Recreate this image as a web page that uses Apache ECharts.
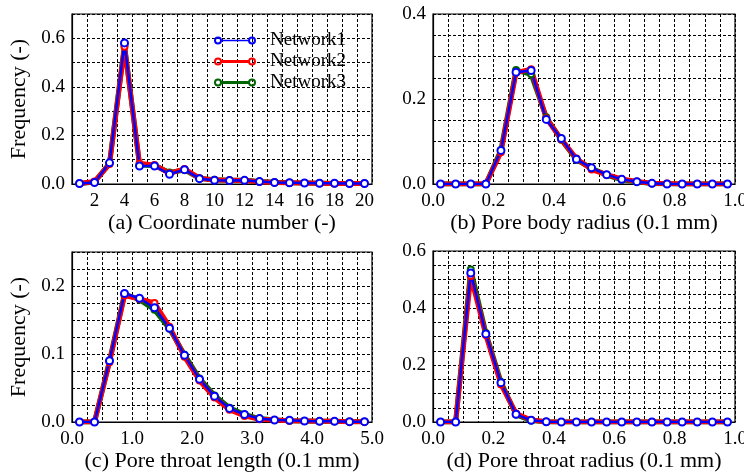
<!DOCTYPE html>
<html><head><meta charset="utf-8">
<script src="https://cdn.jsdelivr.net/npm/echarts@6/dist/echarts.min.js"></script>
<style>html,body{margin:0;padding:0;background:#fff}#c{width:744px;height:475px}</style>
</head><body><div id="c"></div>
<script>
// ---- data ----
const coordNumbers = [1,2,3,4,5,6,7,8,9,10,11,12,13,14,15,16,17,18,19,20];
const coordN1 = [0.002,0.006,0.087,0.581,0.074,0.074,0.040,0.059,0.022,0.015,0.014,0.015,0.010,0.006,0.005,0.004,0.003,0.003,0.002,0.002];
const coordN2 = [0.002,0.010,0.082,0.565,0.084,0.078,0.044,0.062,0.024,0.016,0.015,0.014,0.009,0.006,0.005,0.004,0.003,0.002,0.002,0.002];
const coordN3 = [0.002,0.008,0.085,0.572,0.078,0.076,0.047,0.058,0.023,0.018,0.015,0.015,0.010,0.007,0.005,0.004,0.003,0.002,0.002,0.002];

const radiusX = [0.025,0.075,0.125,0.175,0.225,0.275,0.325,0.375,0.425,0.475,0.525,0.575,0.625,0.675,0.725,0.775,0.825,0.875,0.925,0.975];
const bodyN1 = [0,0,0,0,0.079,0.263,0.267,0.152,0.107,0.058,0.038,0.022,0.011,0.0055,0.0015,0,0,0,0,0];
const bodyN2 = [0,0,0,0,0.075,0.262,0.270,0.155,0.105,0.060,0.034,0.022,0.012,0.006,0.002,0.001,0,0,0,0];
const bodyN3 = [0,0,0,0,0.080,0.268,0.258,0.157,0.104,0.057,0.037,0.021,0.010,0.005,0.001,0,0,0,0,0];

const lengthX = [0.125,0.375,0.625,0.875,1.125,1.375,1.625,1.875,2.125,2.375,2.625,2.875,3.125,3.375,3.625,3.875,4.125,4.375,4.625,4.875];
const lengthN1 = [0,0,0.090,0.189,0.182,0.168,0.138,0.098,0.063,0.038,0.020,0.011,0.005,0.003,0.0025,0.0015,0.001,0.001,0.0005,0.0005];
const lengthN2 = [0,0,0.088,0.186,0.181,0.175,0.140,0.096,0.061,0.036,0.018,0.009,0.004,0.003,0.002,0.0015,0.001,0.001,0.0005,0.0005];
const lengthN3 = [0,0,0.090,0.188,0.180,0.165,0.137,0.099,0.064,0.039,0.021,0.011,0.005,0.003,0.002,0.0015,0.001,0.001,0.0005,0.0005];

const throatN1 = [0,0,0.523,0.309,0.138,0.027,0.006,0.001,0,0,0,0,0,0,0,0,0,0,0,0];
const throatN2 = [0,0,0.512,0.305,0.132,0.030,0.007,0.001,0,0,0,0,0,0,0,0,0,0,0,0];
const throatN3 = [0,0,0.535,0.312,0.140,0.026,0.005,0.001,0,0,0,0,0,0,0,0,0,0,0,0];

const seriesNames = ['Network1','Network2','Network3'];
const panelTitles = ['(a) Coordinate number (-)','(b) Pore body radius (0.1 mm)','(c) Pore throat length (0.1 mm)','(d) Pore throat radius (0.1 mm)'];
const yName = 'Frequency (-)';

// ---- styling ----
const FONT = 'Liberation Serif';
const colors = {Network1:'#0000ff', Network2:'#ff0000', Network3:'#006400'};
const widths = {Network1:2.5, Network2:5, Network3:5};

function zip(xs, ys){ return xs.map((x,i)=>[x, ys[i]]); }
function fmt(step){
  return function(v){ const r=v/step; return Math.abs(r-Math.round(r))<1e-6 ? v.toFixed(1) : ''; };
}
const gridBox = [
  {left:72, top:14, width:300, height:170},
  {left:433, top:14, width:302, height:170},
  {left:72, top:252, width:300, height:170},
  {left:433, top:251, width:302, height:171}
];
const grids = gridBox.map(g => Object.assign({show:true, borderColor:'#000', borderWidth:1.2, outerBoundsMode:'none', containLabel:false}, g));

const splitStyle = {show:true, lineStyle:{color:'#000', width:1, type:[3,2]}};
const axLine = {show:true, lineStyle:{color:'#000', width:1.2}};
const lab = {color:'#000', fontFamily:FONT, fontSize:19};
const nameStyle = {color:'#000', fontFamily:FONT, fontSize:22};
const yNameStyle = {color:'#000', fontFamily:FONT, fontSize:22};

const xAxes = [
  {type:'category', gridIndex:0, data:coordNumbers, boundaryGap:true,
   axisLine:axLine, axisTick:{show:false},
   axisLabel:Object.assign({interval:(i,v)=>Number(v)%2===0, margin:8}, lab),
   splitLine:Object.assign({interval:0}, splitStyle),
   name:panelTitles[0], nameLocation:'middle', nameGap:24, nameTextStyle:nameStyle},
  {type:'value', gridIndex:1, min:0, max:1, interval:0.05,
   axisLine:axLine, axisTick:{show:false},
   axisLabel:Object.assign({formatter:fmt(0.2), margin:8}, lab), splitLine:splitStyle,
   name:panelTitles[1], nameLocation:'middle', nameGap:24, nameTextStyle:nameStyle},
  {type:'value', gridIndex:2, min:0, max:5, interval:0.25,
   axisLine:axLine, axisTick:{show:false},
   axisLabel:Object.assign({formatter:fmt(1), margin:8}, lab), splitLine:splitStyle,
   name:panelTitles[2], nameLocation:'middle', nameGap:22, nameTextStyle:nameStyle},
  {type:'value', gridIndex:3, min:0, max:1, interval:0.05,
   axisLine:axLine, axisTick:{show:false},
   axisLabel:Object.assign({formatter:fmt(0.2), margin:8}, lab), splitLine:splitStyle,
   name:panelTitles[3], nameLocation:'middle', nameGap:22, nameTextStyle:nameStyle}
];
const yCfg = [[0.7,0.1,0.2,true],[0.4,0.05,0.2,false],[0.25,0.025,0.1,true],[0.6,0.05,0.2,false]];
const yAxes = yCfg.map((c,i)=>{
  const a = {type:'value', gridIndex:i, min:0, max:c[0], interval:c[1],
    axisLine:axLine, axisTick:{show:false},
    axisLabel:Object.assign({formatter:fmt(c[2]), margin:7}, lab), splitLine:splitStyle};
  if (c[3]) Object.assign(a, {name:yName, nameLocation:'middle', nameGap:42, nameTextStyle:yNameStyle});
  return a;
});

function mk(name, gi, data){
  const blue = name==='Network1';
  return {type:'line', name, xAxisIndex:gi, yAxisIndex:gi, data,
    symbol:'emptyCircle', symbolSize: blue?7:6, showSymbol:true,
    lineStyle:{color:colors[name], width:widths[name]},
    itemStyle:{color:colors[name], borderColor:colors[name], borderWidth:2},
    emphasis:{disabled:true}, animation:false};
}
const panelData = [
  [coordN1, coordN2, coordN3],
  [zip(radiusX,bodyN1), zip(radiusX,bodyN2), zip(radiusX,bodyN3)],
  [zip(lengthX,lengthN1), zip(lengthX,lengthN2), zip(lengthX,lengthN3)],
  [zip(radiusX,throatN1), zip(radiusX,throatN2), zip(radiusX,throatN3)]
];
const series = [];
panelData.forEach((d,gi)=>{
  series.push(mk('Network3', gi, d[2]));
  series.push(mk('Network2', gi, d[1]));
  series.push(mk('Network1', gi, d[0]));
});

function legendIcon(t){
  const a=4-t/2, b=4+t/2;
  return 'path://M0,4A4,4 0 1,1 8,4A4,4 0 1,1 0,4Z' +
    'M2,4A2,2 0 1,0 6,4A2,2 0 1,0 2,4Z' +
    'M34,4A4,4 0 1,1 42,4A4,4 0 1,1 34,4Z' +
    'M36,4A2,2 0 1,0 40,4A2,2 0 1,0 36,4Z' +
    'M7,'+a+'L35,'+a+'L35,'+b+'L7,'+b+'Z';
}
const legendT = {Network1:1.5, Network2:3, Network3:3};

const chart = echarts.init(document.getElementById('c'), null, {renderer:'canvas'});
chart.setOption({
  animation:false,
  backgroundColor:'#fff',
  grid:grids,
  xAxis:xAxes,
  yAxis:yAxes,
  legend:{
    left:214, top:31, orient:'vertical', padding:0, itemGap:2,
    itemWidth:42, itemHeight:8, selectedMode:false,
    textStyle:{color:'#000', fontFamily:FONT, fontSize:19, padding:[0,0,0,9]},
    data: seriesNames.map(n=>({name:n, icon:legendIcon(legendT[n]), itemStyle:{color:colors[n], borderWidth:0}}))
  },
  series
});
</script></body></html>
